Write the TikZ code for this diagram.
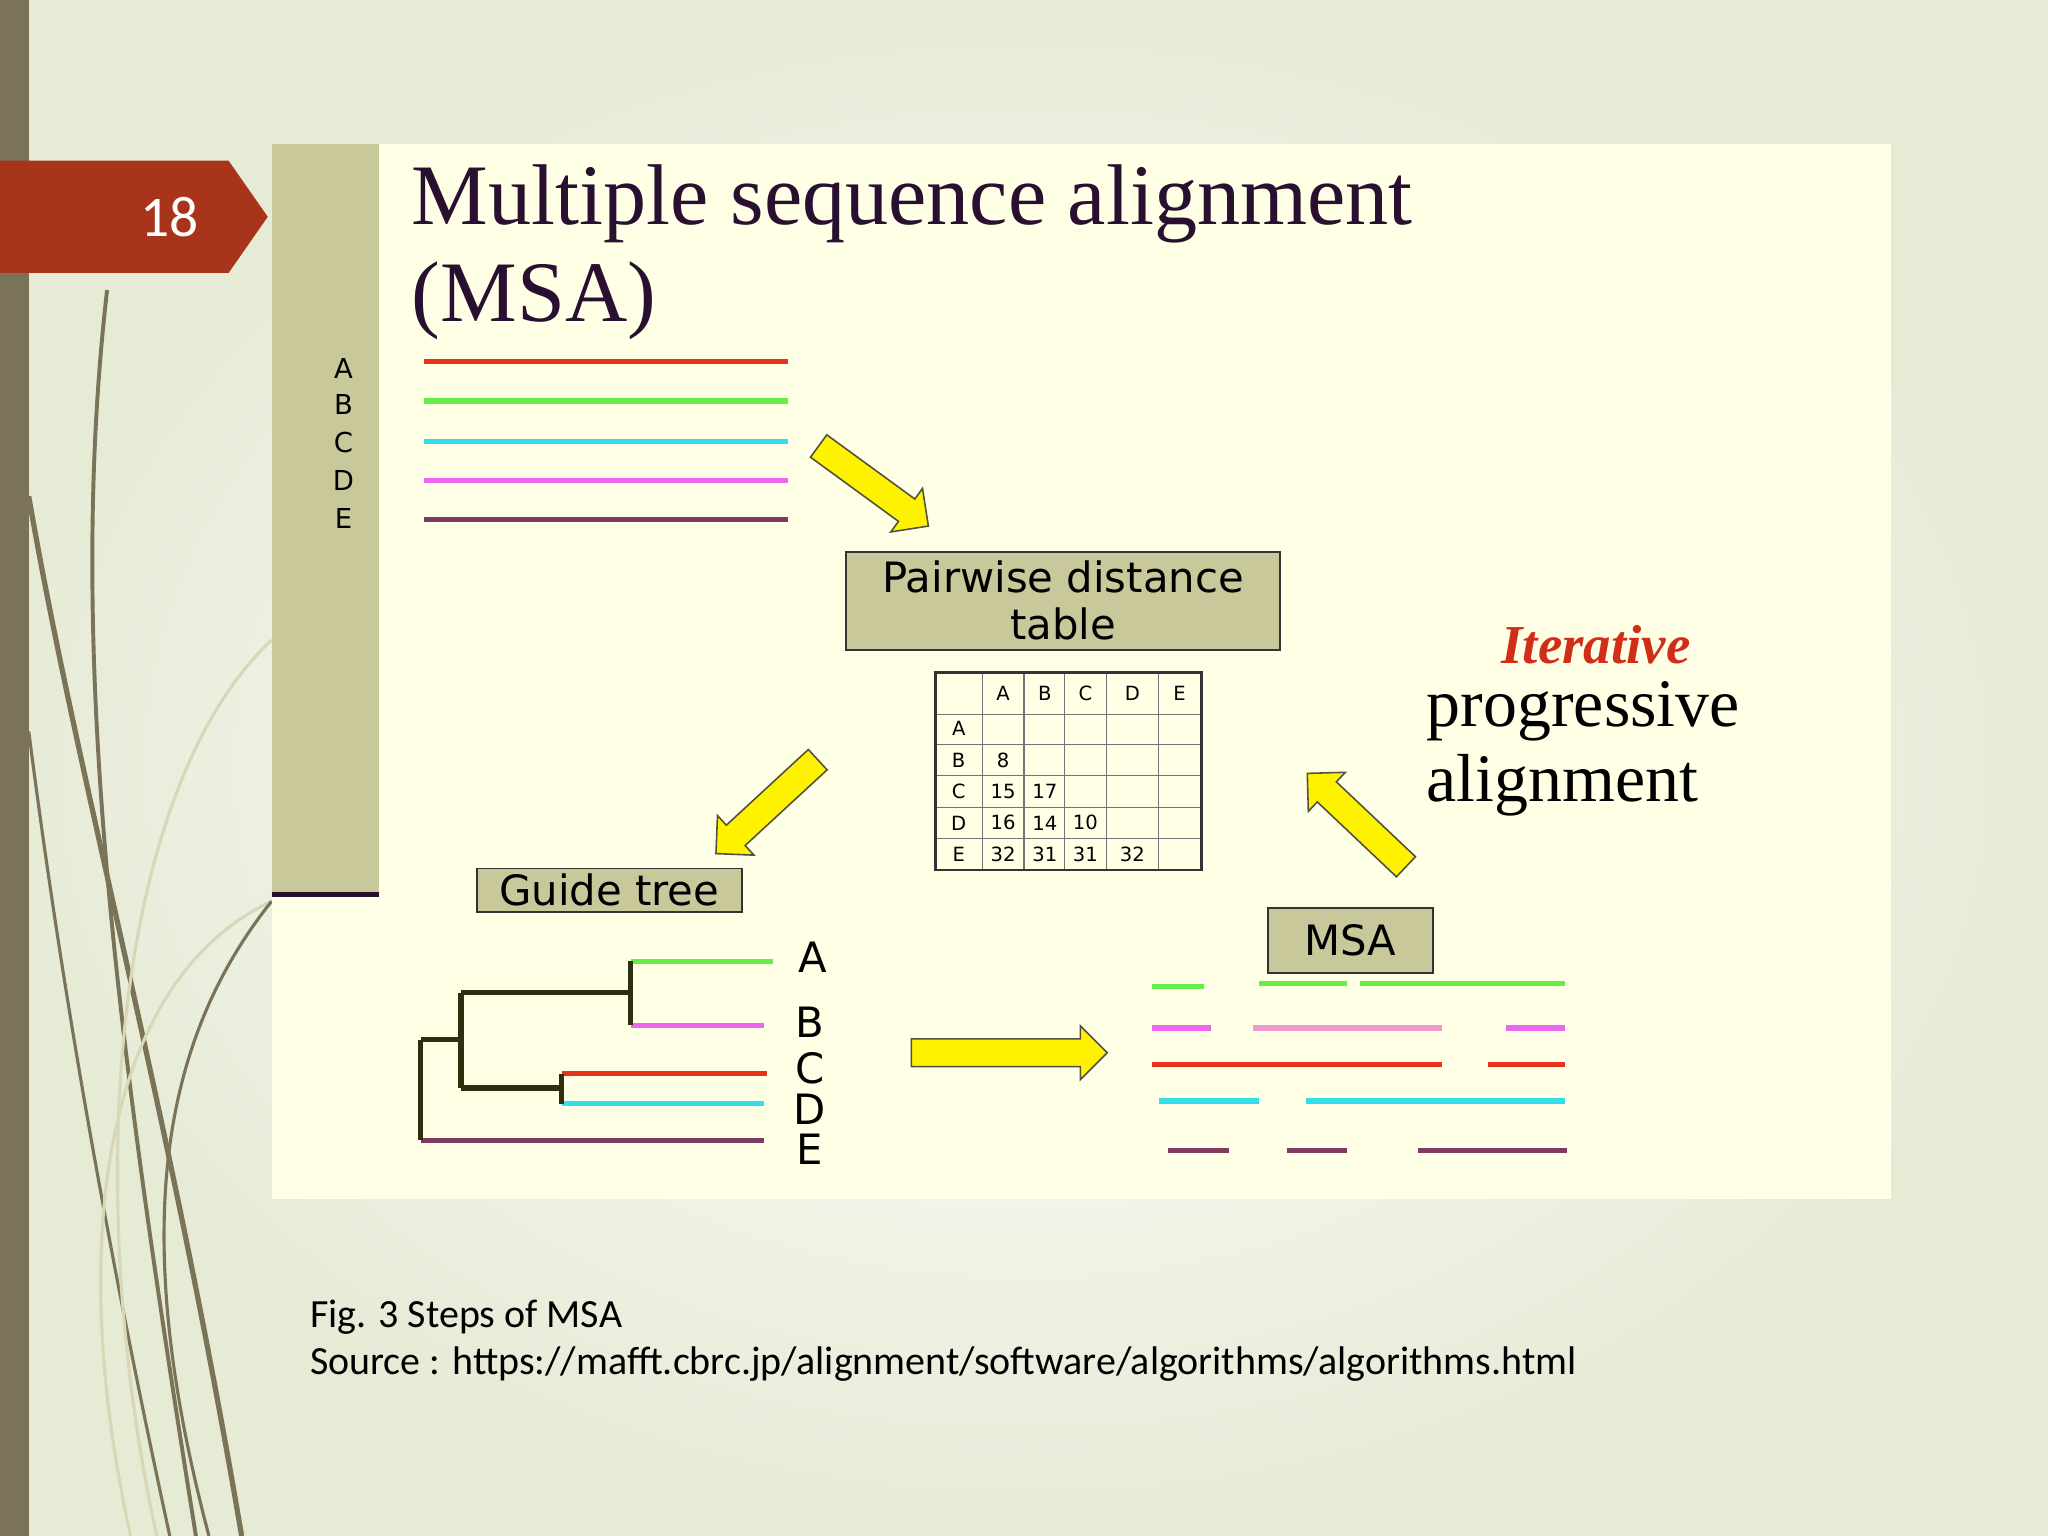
\documentclass[tikz,border=0pt]{standalone}
\usepackage{fontspec}
\setmainfont{Liberation Serif}
\newfontfamily\dvs{DejaVu Sans}
\newfontfamily\carl{Carlito}
\usetikzlibrary{shapes.arrows}
\definecolor{bgc}{HTML}{E6EBD6}
\definecolor{cream}{HTML}{FFFFE6}
\definecolor{olive}{HTML}{C8C89A}
\definecolor{darkol}{HTML}{7A7358}
\definecolor{redt}{HTML}{A8341C}
\definecolor{ttl}{HTML}{2A1030}
\definecolor{lr}{HTML}{E8331C}
\definecolor{lg}{HTML}{66EE44}
\definecolor{lc}{HTML}{33DDEE}
\definecolor{lm}{HTML}{EE66EE}
\definecolor{lp}{HTML}{7F3A5F}
\definecolor{lpk}{HTML}{EE99CC}
\definecolor{tree}{HTML}{2F2F10}
\tikzset{x=0.5pt,y=-0.5pt,
 seq/.style={line width=2pt},
 tr/.style={line width=2pt,color=tree},
 lbox/.style={draw=black!80,fill=olive,line width=0.7pt,font=\dvs\fontsize{16}{18}\selectfont,align=center,inner sep=0pt},
 yarr/.style={single arrow,fill=yellow,draw=black!60!olive,line width=0.6pt,inner xsep=0pt,inner ysep=5pt,single arrow head extend=5pt,sloped},
 tl/.style={font=\dvs\fontsize{7.5}{8}\selectfont},
 bigl/.style={font=\dvs\fontsize{16}{16}\selectfont,inner sep=0pt}}
\begin{document}
\begin{tikzpicture}
\shade[inner color=white,outer color=bgc] (0,0) rectangle (1568,1176);
\useasboundingbox (0,0) rectangle (1568,1176);
\fill[darkol] (0,0) rectangle (22,1176);
% decorative curves
\draw[darkol,line width=1.5pt] (150,1176) .. controls (90,800) and (50,500) .. (82,222);
\draw[darkol,line width=2pt] (185,1176) .. controls (130,850) and (60,600) .. (22,380);
\draw[darkol,line width=1.2pt] (130,1176) .. controls (70,900) and (40,700) .. (22,560);
\draw[olive!70!white,line width=1.2pt] (120,1176) .. controls (60,900) and (90,600) .. (208,490);
\draw[olive!70!white,line width=1.2pt] (100,1176) .. controls (50,950) and (80,750) .. (208,690);
\draw[darkol,line width=1.2pt] (160,1176) .. controls (100,950) and (120,800) .. (208,690);
% red tag
\fill[redt] (0,123) -- (175,123) -- (205,166) -- (175,209) -- (0,209) -- cycle;
\node[text=white,font=\carl\fontsize{22}{22}\selectfont] (num) at (130,166) {18};
% panel
\fill[cream] (208,110) rectangle (1448,918);
\fill[olive] (208,110) rectangle (290,685);
\draw[ttl,line width=2pt] (208,685) -- (290,685);
\foreach \l/\y in {A/282,B/310,C/339,D/368,E/397}
 \node[font=\dvs\fontsize{10.5}{11}\selectfont] (r\l) at (263,\y) {\l};
\node[anchor=base west,text=ttl,font=\fontsize{33}{33}\selectfont,inner sep=0] (t1) at (315,172) {Multiple sequence alignment};
\node[anchor=base west,text=ttl,font=\fontsize{33}{33}\selectfont,inner sep=0] (t2) at (315,246) {(MSA)};
% sequences
\draw[seq,lr] (325,277) -- (603,277);
\draw[seq,lg] (325,307) -- (603,307);
\draw[seq,lc] (325,338) -- (603,338);
\draw[seq,lm] (325,368) -- (603,368);
\draw[seq,lp] (325,398) -- (603,398);
% boxes
\node[lbox,minimum width=166pt,minimum height=37.5pt] (pdt) at (814,460) {Pairwise distance\\table};
\node[lbox,minimum width=101.5pt,minimum height=16.5pt] (gt) at (466.5,681.5) {Guide tree};
\node[lbox,minimum width=63pt,minimum height=25pt] (msa) at (1034,720) {MSA};
% table
\foreach \x in {752,784,815,847,887} \draw[black!55,line width=0.5pt] (\x,515) -- (\x,666);
\foreach \y in {547,570,594,618,642} \draw[black!55,line width=0.5pt] (716,\y) -- (920,\y);
\draw[black!80,line width=1pt] (716,515) rectangle (920,666);
\node[tl] (tha) at (768,531) {A};\node[tl] (thb) at (800,531) {B};\node[tl] (thc) at (831,531) {C};\node[tl] (thd) at (867,531) {D};\node[tl] (the) at (903,531) {E};
\node[tl] (tra) at (734,558) {A};\node[tl] (trb) at (734,582) {B};\node[tl] (trc) at (734,606) {C};\node[tl] (trd) at (734,630) {D};\node[tl] (tre) at (734,654) {E};
\node[tl] (v1) at (768,582) {8};
\node[tl] (v2) at (768,606) {15};\node[tl] (v3) at (800,606) {17};
\node[tl] (v4) at (768,630) {16};\node[tl] (v5) at (800,630) {14};\node[tl] (v6) at (831,630) {10};
\node[tl] (v7) at (768,654) {32};\node[tl] (v8) at (800,654) {31};\node[tl] (v9) at (831,654) {31};\node[tl] (v10) at (867,654) {32};
% arrows
\coordinate (a1s) at (622,338); \coordinate (a1e) at (707,400);
\coordinate (a2s) at (630,578); \coordinate (a2e) at (552,650);
\coordinate (a3s) at (692,806); \coordinate (a3e) at (843,806);
\coordinate (a4s) at (1080,667); \coordinate (a4e) at (1005,596);
\path (a1s) -- (a1e) node[yarr,midway,minimum height=52pt,allow upside down] (ar1) {};
\path (a2s) -- (a2e) node[yarr,midway,minimum height=53pt,allow upside down] (ar2) {};
\path (a3s) -- (a3e) node[yarr,midway,minimum height=75pt,allow upside down] (ar3) {};
\path (a4s) -- (a4e) node[yarr,midway,minimum height=52pt,allow upside down] (ar4) {};
% tree
\draw[seq,lg] (483,736) -- (592,736);
\draw[seq,lm] (483,785) -- (585,785);
\draw[seq,lr] (430,822) -- (587,822);
\draw[seq,lc] (430,845) -- (585,845);
\draw[seq,lp] (322,873) -- (585,873);
\draw[tr] (483,736) -- (483,785);
\draw[tr] (353,760) -- (483,760);
\draw[tr] (430,822) -- (430,845);
\draw[tr] (353,833) -- (430,833);
\draw[tr] (353,760) -- (353,833);
\draw[tr] (322,796) -- (353,796);
\draw[tr] (322,796) -- (322,873);
\node[bigl] (la) at (622,733) {A};
\node[bigl] (lb) at (620,783) {B};
\node[bigl] (lc) at (620,818) {C};
\node[bigl] (ld) at (620,849) {D};
\node[bigl] (le) at (620,880) {E};
% msa lines
\draw[seq,lg] (882,755) -- (922,755) (964,753) -- (1031,753) (1041,753) -- (1198,753);
\draw[seq,lm] (882,787) -- (927,787) (1153,787) -- (1198,787);
\draw[seq,lpk] (959,787) -- (1104,787);
\draw[seq,lr] (882,815) -- (1104,815) (1139,815) -- (1198,815);
\draw[seq,lc] (887,843) -- (964,843) (1000,843) -- (1198,843);
\draw[seq,lp] (894,881) -- (941,881) (985,881) -- (1031,881) (1086,881) -- (1200,881);
% iterative
\node[text=lr!90!black,font=\bfseries\itshape\fontsize{21}{21}\selectfont,inner sep=0pt] (it) at (1222,494) {Iterative};
\node[anchor=base west,inner sep=0,font=\fontsize{26}{26}\selectfont] (pr) at (1092,556) {progressive};
\node[anchor=base west,inner sep=0,font=\fontsize{26}{26}\selectfont] (al) at (1092,614) {alignment};
% caption
\node[anchor=base west,inner sep=0,font=\carl\fontsize{15.3}{16}\selectfont] (c1) at (237,1016) {Fig. 3 Steps of MSA};
\node[anchor=base west,inner sep=0,font=\carl\fontsize{15.3}{16}\selectfont] (c2) at (237,1052) {Source : https://mafft.cbrc.jp/alignment/software/algorithms/algorithms.html};
\end{tikzpicture}
\end{document}
